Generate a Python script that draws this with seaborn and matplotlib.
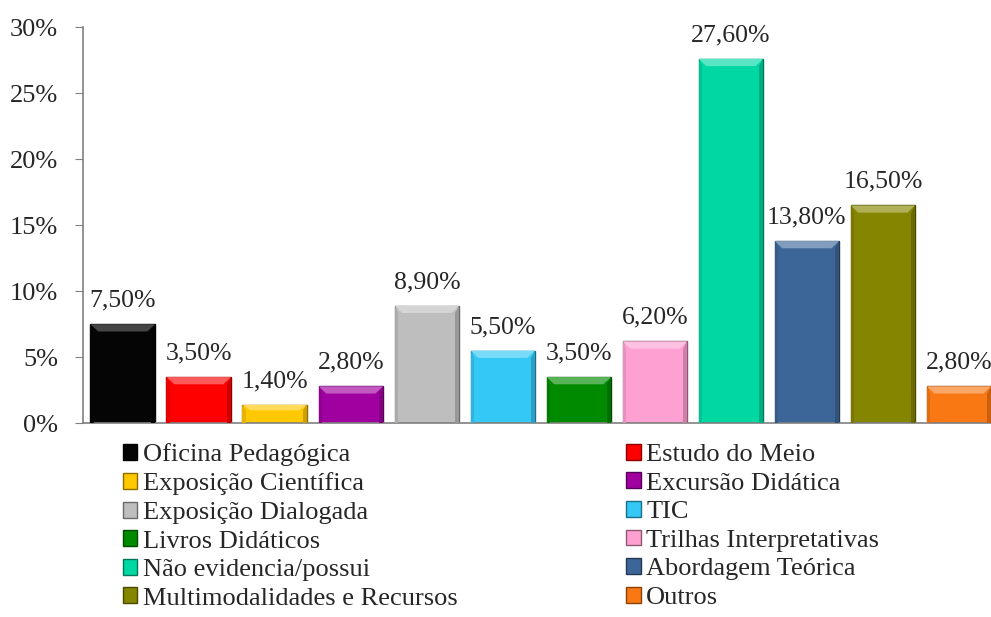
import matplotlib
matplotlib.use("Agg")
import matplotlib.pyplot as plt
import matplotlib.colors as mcolors
from matplotlib.patches import Polygon, Patch
import pandas as pd
import seaborn as sns

categories = ["Oficina Pedagógica", "Estudo do Meio", "Exposição Científica",
              "Excursão Didática", "Exposição Dialogada", "TIC",
              "Livros Didáticos", "Trilhas Interpretativas", "Não evidencia/possui",
              "Abordagem Teórica", "Multimodalidades e Recursos", "Outros"]
values = [7.5, 3.5, 1.4, 2.8, 8.9, 5.5, 3.5, 6.2, 27.6, 13.8, 16.5, 2.8]
labels = ["7,50%", "3,50%", "1,40%", "2,80%", "8,90%", "5,50%",
          "3,50%", "6,20%", "27,60%", "13,80%", "16,50%", "2,80%"]
colors = ["#050505", "#FF0000", "#FFC800", "#A000A0", "#BEBEBE", "#33C8F5",
          "#008A00", "#FFA0D2", "#00D8A4", "#3D6698", "#858500", "#FA7814"]

df = pd.DataFrame({"cat": categories, "val": values})

sns.set_style("white")
plt.rcParams["font.family"] = ["Liberation Serif", "DejaVu Serif"]

fig = plt.figure(figsize=(9.91, 6.17), dpi=100)
ax = fig.add_axes([0.084, 0.314, 0.922, 0.642])

sns.barplot(data=df, x="cat", y="val", hue="cat", palette=colors, width=0.85,
            legend=False, ax=ax, saturation=1)


def shade(c, f):
    r, g, b = mcolors.to_rgb(c)
    if f > 0:
        return (r + (1 - r) * f, g + (1 - g) * f, b + (1 - b) * f)
    return (r * (1 + f), g * (1 + f), b * (1 + f))


# bevel look: darker outline, lighter top strip, darker side edges
for p, c in zip(ax.patches, colors):
    x0, y0 = p.get_x(), p.get_y()
    w, h = p.get_width(), p.get_height()
    p.set_edgecolor(shade(c, -0.45))
    p.set_linewidth(1.0)
    bx = w * 0.12
    by = min(0.55, h * 0.3)
    top = Polygon([(x0, y0 + h), (x0 + w, y0 + h), (x0 + w - bx, y0 + h - by),
                   (x0 + bx, y0 + h - by)], closed=True,
                  facecolor=shade(c, 0.35 if c != "#050505" else 0.25), edgecolor="none", zorder=3)
    ax.add_patch(top)
    side = Polygon([(x0 + w, y0 + h), (x0 + w, y0), (x0 + w - bx * 0.5, y0),
                    (x0 + w - bx * 0.5, y0 + h - by)], closed=True,
                   facecolor=shade(c, -0.2), edgecolor="none", zorder=3)
    ax.add_patch(side)
    lside = Polygon([(x0, y0 + h), (x0, y0), (x0 + bx * 0.4, y0),
                     (x0 + bx * 0.4, y0 + h - by)], closed=True,
                    facecolor=shade(c, -0.1), edgecolor="none", zorder=3)
    ax.add_patch(lside)

for i, (v, lab) in enumerate(zip(values, labels)):
    ax.text(i, v + 0.95, lab, ha="center", va="bottom", fontsize=18.5)

ax.set_ylim(0, 30)
ax.set_xlim(-0.52, 11.5)
ax.set_yticks([0, 5, 10, 15, 20, 25, 30])
ax.set_yticklabels(["0%", "5%", "10%", "15%", "20%", "25%", "30%"], fontsize=19)
ax.set_xticks([])
ax.set_xlabel("")
ax.set_ylabel("")
ax.tick_params(axis="y", which="both", left=True, length=6, color="#808080", pad=12)
for s in ["top", "right"]:
    ax.spines[s].set_visible(False)
ax.spines["left"].set_color("#808080")
ax.spines["bottom"].set_color("#808080")
ax.spines["left"].set_linewidth(1.2)
ax.spines["bottom"].set_linewidth(1.2)

handles = [Patch(facecolor=c, edgecolor=shade(c, -0.45), label=n) for c, n in zip(colors, categories)]
order = list(range(0, 12, 2)) + list(range(1, 12, 2))
fig.legend([handles[i] for i in order], [categories[i] for i in order],
           ncol=2, loc="upper left", bbox_to_anchor=(0.124, 0.282), frameon=False,
           fontsize=19, handlelength=0.55, handleheight=0.55, handletextpad=0.2,
           labelspacing=0.24, columnspacing=6.4, borderpad=0, borderaxespad=0)

fig.savefig("out.png", dpi=100)
